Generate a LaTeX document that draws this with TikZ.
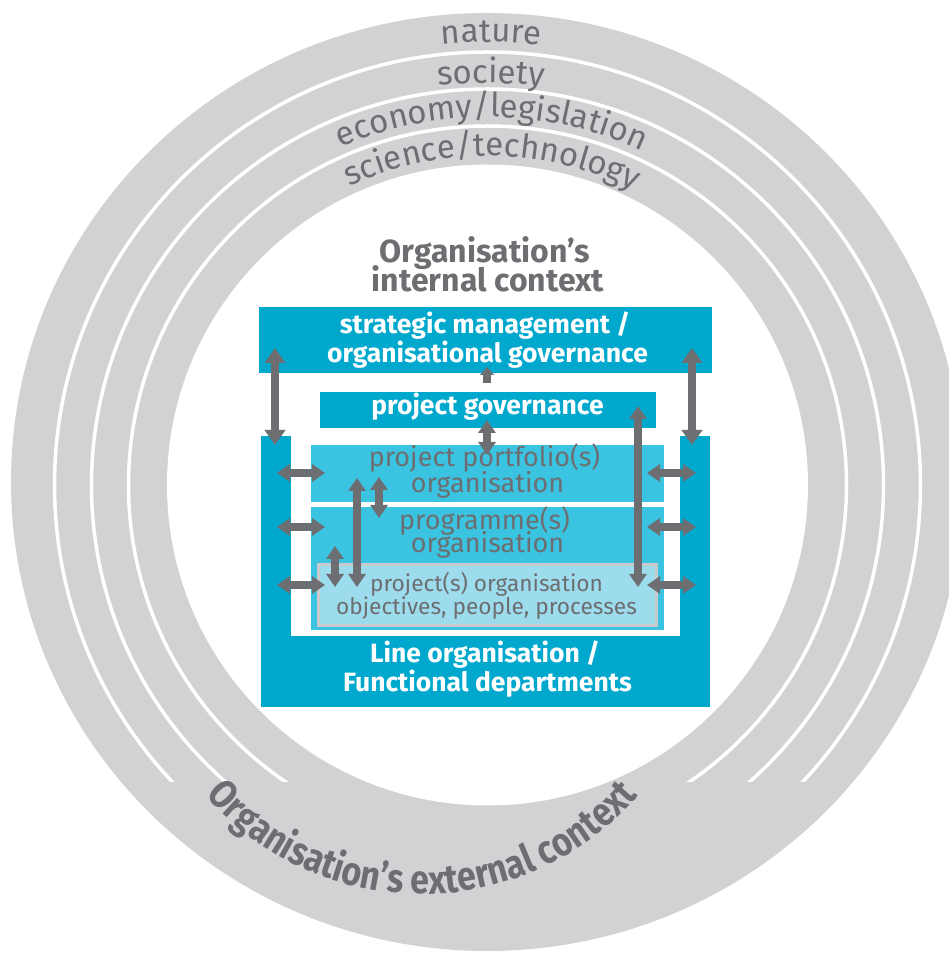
\documentclass[tikz,border=0pt]{standalone}
\usepackage{fontspec}
\setmainfont{Fira Sans}
\newfontfamily\extfont{Fira Sans}[FakeStretch=0.85]
\usetikzlibrary{arrows.meta,decorations.text}
\definecolor{ringgray}{HTML}{D1D2D4}
\definecolor{tgray}{HTML}{6D6E71}
\definecolor{dblue}{HTML}{00A8CE}
\definecolor{mblue}{HTML}{3AC4E1}
\definecolor{lblue}{HTML}{9DDCEC}
\definecolor{bgray}{HTML}{C9CACC}
\newcommand\ringfnt{\color{tgray}\fontsize{33}{33}\selectfont}
\newcommand\extfnt{\color{tgray}\extfont\bfseries\fontsize{40}{40}\selectfont}
\begin{document}
\begin{tikzpicture}[x=1pt,y=1pt,
  box/.style={rectangle, inner sep=0pt, outer sep=0pt},
  wlab/.style={text=white, font=\bfseries\fontsize{26.5}{26.5}\selectfont, anchor=base, inner sep=0pt},
  glab/.style={text=tgray, font=\fontsize{27}{27}\selectfont, anchor=base, inner sep=0pt},
  slab/.style={text=tgray, font=\fontsize{22.7}{22.7}\selectfont, anchor=base, inner sep=0pt},
  hlab/.style={text=tgray, font=\bfseries\fontsize{32}{32}\selectfont, anchor=base, inner sep=0pt},
  dbl/.style={draw=tgray, line width=7.5pt, {Triangle[width=17pt,length=13pt]}-{Triangle[width=17pt,length=13pt]}},
  bigdbl/.style={draw=tgray, line width=8.5pt, {Triangle[width=20pt,length=15pt]}-{Triangle[width=20pt,length=15pt]}},
  sgl/.style={draw=tgray, line width=8pt, -{Triangle[width=14pt,length=8pt]}},
  ringtext/.style={decorate, decoration={text along path, text align=center, text={#1}}}
]
\useasboundingbox (0,0) rectangle (949,954);
% rings
\begin{scope}
  \clip (0,0) rectangle (949,954);
  \fill[ringgray] (487,472) ellipse [x radius=476, y radius=469];
  \fill[white] (487.5,469) circle [radius=320.5];
  \begin{scope}
    \clip (0,172) rectangle (949,954);
    \draw[white, line width=3.5pt] (487.5,469) circle [radius=359] circle [radius=396] circle [radius=433];
  \end{scope}
\end{scope}
% ring labels
\path[ringtext={|\ringfnt|nature}] (487.5,469) ++(179.5:443) arc [start angle=179.5, end angle=-0.5, radius=443];
\path[ringtext={|\ringfnt|society}] (487.5,469) ++(179.5:402) arc [start angle=179.5, end angle=-0.5, radius=402];
\path[ringtext={|\ringfnt|economy/legislation}] (487.5,469) ++(179.3:368) arc [start angle=179.3, end angle=-0.7, radius=368];
\path[ringtext={|\ringfnt|science/technology}] (487.5,469) ++(179.2:329) arc [start angle=179.2, end angle=-0.8, radius=329];
\path[ringtext={|\extfnt|Organisation’s external context}] (422,347) ++(180:287) arc [start angle=180, end angle=360, radius=287];

% heading
\node[hlab] (head1) at (485,691) {Organisation’s};
\node[hlab] (head2) at (488,662) {internal context};

% boxes
\node[box, fill=dblue, minimum width=449pt, minimum height=271pt] (lineorg) at (485.5,382.5) {};
\node[box, fill=white, minimum width=389pt, minimum height=200pt] (linegap) at (485.5,418) {};
\node[box, fill=dblue, minimum width=453pt, minimum height=66pt] (strat) at (485.5,614) {};
\node[box, fill=dblue, minimum width=336pt, minimum height=36pt] (pgov) at (488,544) {};
\node[box, fill=mblue, minimum width=353pt, minimum height=57pt] (portf) at (487.5,480.5) {};
\node[box, fill=mblue, minimum width=353pt, minimum height=123pt] (progr) at (487.5,385.5) {};
\node[box, fill=lblue, draw=bgray, line width=3pt, minimum width=338pt, minimum height=61pt] (proj) at (487.5,359) {};

% box labels
\node[wlab] (strat1) at (485,620) {strategic management /};
\node[wlab] (strat2) at (487.5,591) {organisational governance};
\node[wlab] (pgovl) at (487.5,539) {project governance};
\node[glab] (portf1) at (484.5,487) {project portfolio(s)};
\node[glab] (portf2) at (487.5,461) {organisation};
\node[glab] (progr1) at (484.5,424) {programme(s)};
\node[glab] (progr2) at (487.5,401) {organisation};
\node[slab] (proj1) at (486.5,362) {project(s) organisation};
\node[slab] (proj2) at (486.5,339) {objectives, people, processes};
\node[wlab] (line1) at (485,291) {Line organisation /};
\node[wlab] (line2) at (487.5,262) {Functional departments};

% arrow end points
\coordinate (a1t) at (275,606); \coordinate (a1b) at (275,509);
\coordinate (a2t) at (692,606); \coordinate (a2b) at (692,509);
\coordinate (a3s) at (487,571); \coordinate (a3e) at (487,587);
\coordinate (a4t) at (487,534); \coordinate (a4b) at (487,499);
\coordinate (a5t) at (638,548); \coordinate (a5b) at (638,367);
\coordinate (a6t) at (357,476); \coordinate (a6b) at (357,367);
\coordinate (a7t) at (379,477); \coordinate (a7b) at (379,436);
\coordinate (a8t) at (335,408); \coordinate (a8b) at (335,367);
\coordinate (hl1a) at (277,481); \coordinate (hl1b) at (325,481);
\coordinate (hl2a) at (277,427); \coordinate (hl2b) at (325,427);
\coordinate (hl3a) at (277,369); \coordinate (hl3b) at (325,369);
\coordinate (hr1a) at (647,481); \coordinate (hr1b) at (696,481);
\coordinate (hr2a) at (647,427); \coordinate (hr2b) at (696,427);
\coordinate (hr3a) at (647,369); \coordinate (hr3b) at (696,369);

% arrows
\draw[bigdbl] (a1t) -- (a1b);
\draw[bigdbl] (a2t) -- (a2b);
\draw[sgl] (a3s) -- (a3e);
\draw[dbl] (a4t) -- (a4b);
\draw[dbl] (a5t) -- (a5b);
\draw[dbl] (a6t) -- (a6b);
\draw[dbl] (a7t) -- (a7b);
\draw[dbl] (a8t) -- (a8b);
\draw[dbl] (hl1a) -- (hl1b);
\draw[dbl] (hl2a) -- (hl2b);
\draw[dbl] (hl3a) -- (hl3b);
\draw[dbl] (hr1a) -- (hr1b);
\draw[dbl] (hr2a) -- (hr2b);
\draw[dbl] (hr3a) -- (hr3b);
\end{tikzpicture}
\end{document}
